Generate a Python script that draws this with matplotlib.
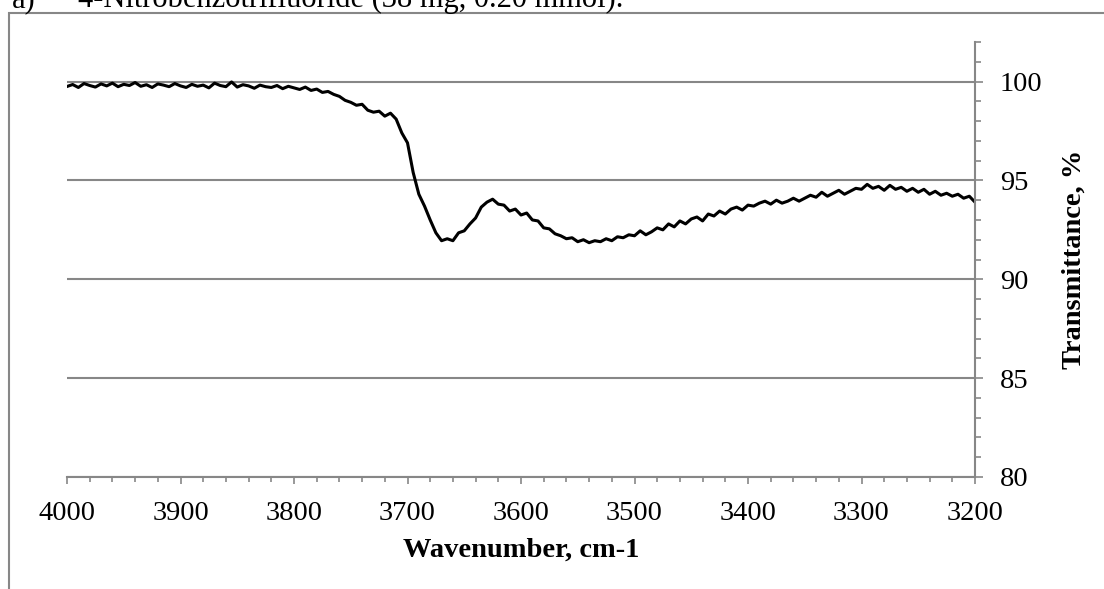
import matplotlib
matplotlib.use("Agg")
import matplotlib.pyplot as plt
import numpy as np
from matplotlib.patches import Rectangle
from matplotlib.ticker import MultipleLocator

# IR spectrum, 4000-3200 cm-1, sampled every 5 cm-1
wavenumber = np.arange(4000, 3199, -5)
transmittance = [
    99.75, 99.85, 99.70, 99.90, 99.80, 99.72, 99.88, 99.78, 99.92, 99.74,
    99.86, 99.80, 99.95, 99.76, 99.84, 99.70, 99.88, 99.82, 99.74, 99.90,
    99.78, 99.70, 99.86, 99.76, 99.82, 99.68, 99.92, 99.80, 99.74, 99.98,
    99.72, 99.84, 99.78, 99.66, 99.82, 99.74, 99.70, 99.80, 99.64, 99.76,
    99.68, 99.60, 99.72, 99.55, 99.62, 99.45, 99.50, 99.35, 99.25, 99.05,
    98.95, 98.80, 98.85, 98.55, 98.45, 98.50, 98.25, 98.40, 98.10, 97.40,
    96.90, 95.40, 94.30, 93.70, 93.00, 92.35, 91.95, 92.05, 91.95, 92.35,
    92.45, 92.80, 93.10, 93.65, 93.90, 94.05, 93.80, 93.75, 93.45, 93.55,
    93.25, 93.35, 93.00, 92.95, 92.60, 92.55, 92.30, 92.20, 92.05, 92.10,
    91.90, 92.00, 91.85, 91.95, 91.90, 92.05, 91.95, 92.15, 92.10, 92.25,
    92.20, 92.45, 92.25, 92.40, 92.60, 92.50, 92.80, 92.65, 92.95, 92.80,
    93.05, 93.15, 92.95, 93.30, 93.20, 93.45, 93.30, 93.55, 93.65, 93.50,
    93.75, 93.70, 93.85, 93.95, 93.80, 94.00, 93.85, 93.95, 94.10, 93.95,
    94.10, 94.25, 94.15, 94.40, 94.20, 94.35, 94.50, 94.30, 94.45, 94.60,
    94.55, 94.80, 94.60, 94.70, 94.50, 94.75, 94.55, 94.65, 94.45, 94.60,
    94.40, 94.55, 94.30, 94.45, 94.25, 94.35, 94.20, 94.30, 94.10, 94.20,
    93.90,
]

GREY = "#878787"
SERIF = "Liberation Serif"
W, H = 1104, 589

fig = plt.figure(figsize=(W / 100, H / 100), dpi=100)
ax = fig.add_axes([67 / W, 1 - 477 / H, (975 - 67) / W, (477 - 42) / H])

ax.plot(wavenumber, transmittance, color="black", lw=2.2)

ax.set_xlim(4000, 3200)
ax.set_ylim(80, 102)
ax.xaxis.set_major_locator(MultipleLocator(100))
ax.xaxis.set_minor_locator(MultipleLocator(20))
ax.yaxis.set_major_locator(MultipleLocator(5))
ax.yaxis.set_minor_locator(MultipleLocator(1))
ax.yaxis.tick_right()
ax.yaxis.set_label_position("right")

for s in ("left", "top"):
    ax.spines[s].set_visible(False)
for s in ("right", "bottom"):
    ax.spines[s].set_color(GREY)
    ax.spines[s].set_linewidth(1.5)

ax.tick_params(axis="x", which="major", direction="out", length=5, width=1.2,
               color=GREY, pad=12, labelsize=20.5, labelfontfamily=SERIF)
ax.tick_params(axis="x", which="minor", direction="out", length=3.5, width=1.2, color=GREY)
ax.tick_params(axis="y", which="major", direction="out", length=6, width=1.2,
               color=GREY, pad=12, labelsize=20.5, labelfontfamily=SERIF)
ax.tick_params(axis="y", which="minor", direction="out", length=4.3, width=1.2, color=GREY)

ax.yaxis.grid(True, which="major", color=GREY, lw=1.5)
ax.set_axisbelow(True)

ax.set_xlabel("Wavenumber, cm-1", family=SERIF, weight="bold", size=20.5, labelpad=9)
ax.set_ylabel("Transmittance, %", family=SERIF, weight="bold", size=20.5, labelpad=14)

# frame around the chart, running off the right and bottom edges
fig.add_artist(Rectangle((8.5 / W, -0.1), 2, 1.1 - 12.7 / H, transform=fig.transFigure,
                         fill=False, ec=GREY, lw=1.5))

fig.text(12 / W, 1 - 7 / H, "a)", family=SERIF, size=22, va="baseline")
fig.text(78 / W, 1 - 7 / H, "4-Nitrobenzotrifluoride (38 mg, 0.20 mmol).",
         family=SERIF, size=22, va="baseline")

fig.savefig("out.png", dpi=100)
